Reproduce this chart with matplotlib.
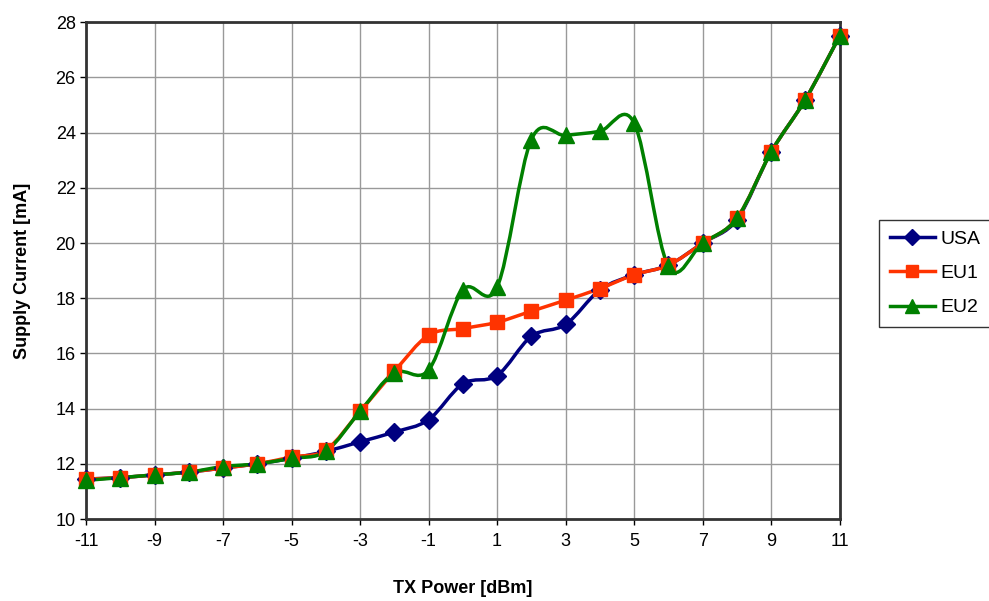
import numpy as np
import matplotlib.pyplot as plt
from matplotlib.path import Path
from matplotlib.patches import PathPatch
from matplotlib.lines import Line2D

plt.rcParams['font.family'] = ['Liberation Sans', 'DejaVu Sans']
plt.rcParams['axes.unicode_minus'] = False

# TX power steps (dBm)
tx_power = list(range(-11, 12))

# supply current (mA)
usa = [11.45, 11.5, 11.6, 11.7, 11.85, 12.0, 12.2, 12.45, 12.8, 13.15, 13.6, 14.9,
       15.2, 16.62, 17.05, 18.3, 18.85, 19.2, 20.0, 20.85, 23.3, 25.2, 27.5]
eu1 = [11.45, 11.5, 11.6, 11.7, 11.85, 12.0, 12.25, 12.5, 13.9, 15.35, 16.66, 16.9,
       17.13, 17.53, 17.93, 18.35, 18.85, 19.2, 20.0, 20.9, 23.3, 25.2, 27.5]
eu2 = [11.4, 11.5, 11.6, 11.7, 11.9, 12.0, 12.2, 12.45, 13.9, 15.3, 15.4, 18.3,
       18.4, 23.75, 23.9, 24.05, 24.35, 19.15, 20.0, 20.9, 23.3, 25.2, 27.5]

names = ['USA', 'EU1', 'EU2']
colors = ['#000080', '#FF3300', '#008000']
markers = ['D', 's', '^']
msizes = [9, 10, 11]


def smooth_path(x, y):
    # Excel style smoothed line: cubic bezier through the points
    x = np.asarray(x, float)
    y = np.asarray(y, float)
    pts = np.column_stack([x, y])
    n = len(pts)
    verts = [pts[0]]
    codes = [Path.MOVETO]
    for i in range(n - 1):
        p0 = pts[i - 1] if i > 0 else pts[i]
        p1 = pts[i]
        p2 = pts[i + 1]
        p3 = pts[i + 2] if i + 2 < n else pts[i + 1]
        c1 = p1 + (p2 - p0) / 6.0
        c2 = p2 - (p3 - p1) / 6.0
        verts += [c1, c2, p2]
        codes += [Path.CURVE4] * 3
    return Path(verts, codes)


fig = plt.figure(figsize=(9.89, 6.01), dpi=100)
ax = fig.add_axes([0.087, 0.1364, 0.762, 0.8266])

for vals, name, c, m, ms in zip([usa, eu1, eu2], names, colors, markers, msizes):
    ax.add_patch(PathPatch(smooth_path(tx_power, vals), fill=False, edgecolor=c,
                           lw=2.5, zorder=3, clip_on=False))
    ax.plot(tx_power, vals, linestyle='none', marker=m, markersize=ms, color=c,
            zorder=4, clip_on=False)

ax.set_xlim(-11, 11)
ax.set_ylim(10, 28)
ax.set_xticks(range(-11, 12, 2))
ax.set_yticks(range(10, 29, 2))
ax.tick_params(labelsize=13, direction='out', length=4, width=1, colors='black')
ax.tick_params(axis='x', pad=6)
ax.grid(True, color='#999999', lw=1)
ax.set_axisbelow(True)
for s in ax.spines.values():
    s.set_linewidth(2)
    s.set_color('#333333')

ax.set_xlabel('TX Power [dBm]', fontsize=13, fontweight='bold', labelpad=22)
ax.set_ylabel('Supply Current [mA]', fontsize=13, fontweight='bold', labelpad=18)

handles = [Line2D([], [], color=c, lw=2.5, marker=m, markersize=ms - 1)
           for c, m, ms in zip(colors, markers, msizes)]
leg = fig.legend(handles, names, loc='center left', bbox_to_anchor=(0.889, 0.545),
                 fontsize=14, frameon=True, fancybox=False, handlelength=2.3,
                 borderpad=0.55, labelspacing=0.85, handletextpad=0.3, borderaxespad=0)
leg.get_frame().set_edgecolor('black')
leg.get_frame().set_linewidth(1)

fig.savefig('out.png', dpi=100)
